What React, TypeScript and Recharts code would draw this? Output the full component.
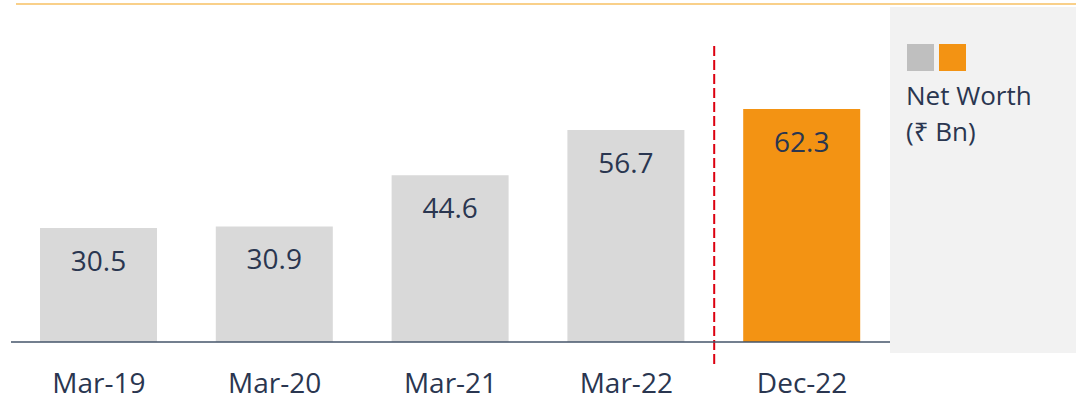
import React from "react";
import { BarChart, Bar, XAxis, YAxis, Cell, LabelList, ReferenceLine } from "recharts";

const categories = ["Mar-19", "Mar-20", "Mar-21", "Mar-22", "Dec-22"];
const netWorth = [30.5, 30.9, 44.6, 56.7, 62.3];
const highlighted = "Dec-22";
const legendLines = ["Net Worth", "(₹ Bn)"];

const data = categories.map((c, i) => ({ period: c, value: netWorth[i] }));

const FONT = "'Open Sans', 'Noto Sans', sans-serif";
const TEXT = "#2A3650";
const GREY = "#D9D9D9";
const ORANGE = "#F39313";

export default function App() {
  return (
    <div style={{ position: "relative", width: 1076, height: 400, fontFamily: FONT }}>
      <style>{`body{margin:0}`}</style>
      <div style={{ position: "absolute", left: 16, right: 0, top: 3, height: 2, background: "#F9D08A" }} />
      <div style={{ position: "absolute", left: 890, top: 7, width: 186, height: 346, background: "#F2F2F2" }}>
        <div style={{ position: "absolute", left: 17, top: 37, width: 27, height: 27, background: "#BFBFBF" }} />
        <div style={{ position: "absolute", left: 49, top: 37, width: 27, height: 27, background: ORANGE }} />
        <div style={{ position: "absolute", left: 16, top: 70, fontSize: 26, lineHeight: "36px", color: TEXT, whiteSpace: "nowrap" }}>
          {legendLines.map((l) => (
            <div key={l}>{l}</div>
          ))}
        </div>
      </div>
      <div style={{ position: "absolute", left: 0, top: 0 }}>
        <BarChart
          width={1076}
          height={400}
          data={data}
          margin={{ top: 45, right: 186, bottom: 0, left: 11 }}
          style={{ fontFamily: FONT }}
        >
          <XAxis
            dataKey="period"
            axisLine={false}
            tickLine={false}
            tickMargin={3}
            height={36}
            interval={0}
            tick={{ fill: TEXT, fontSize: 28, fontFamily: FONT }}
          />
          <YAxis hide type="number" domain={[-5.88, 79.41]} allowDataOverflow />
          <Bar dataKey="value" barSize={117} isAnimationActive={false}>
            {data.map((d) => (
              <Cell key={d.period} fill={d.period === highlighted ? ORANGE : GREY} />
            ))}
            <LabelList
              dataKey="value"
              position="insideTop"
              offset={23}
              formatter={(v: any) => Number(v).toFixed(1)}
              style={{ fill: TEXT, fontSize: 28, fontFamily: FONT }}
            />
          </Bar>
          <ReferenceLine
            x={highlighted}
            position="start"
            stroke="#DC0010"
            strokeWidth={2}
            strokeDasharray="10 4"
            ifOverflow="visible"
          />
          <ReferenceLine y={0} stroke="#44546A" strokeWidth={1.5} ifOverflow="visible" />
        </BarChart>
      </div>
    </div>
  );
}
